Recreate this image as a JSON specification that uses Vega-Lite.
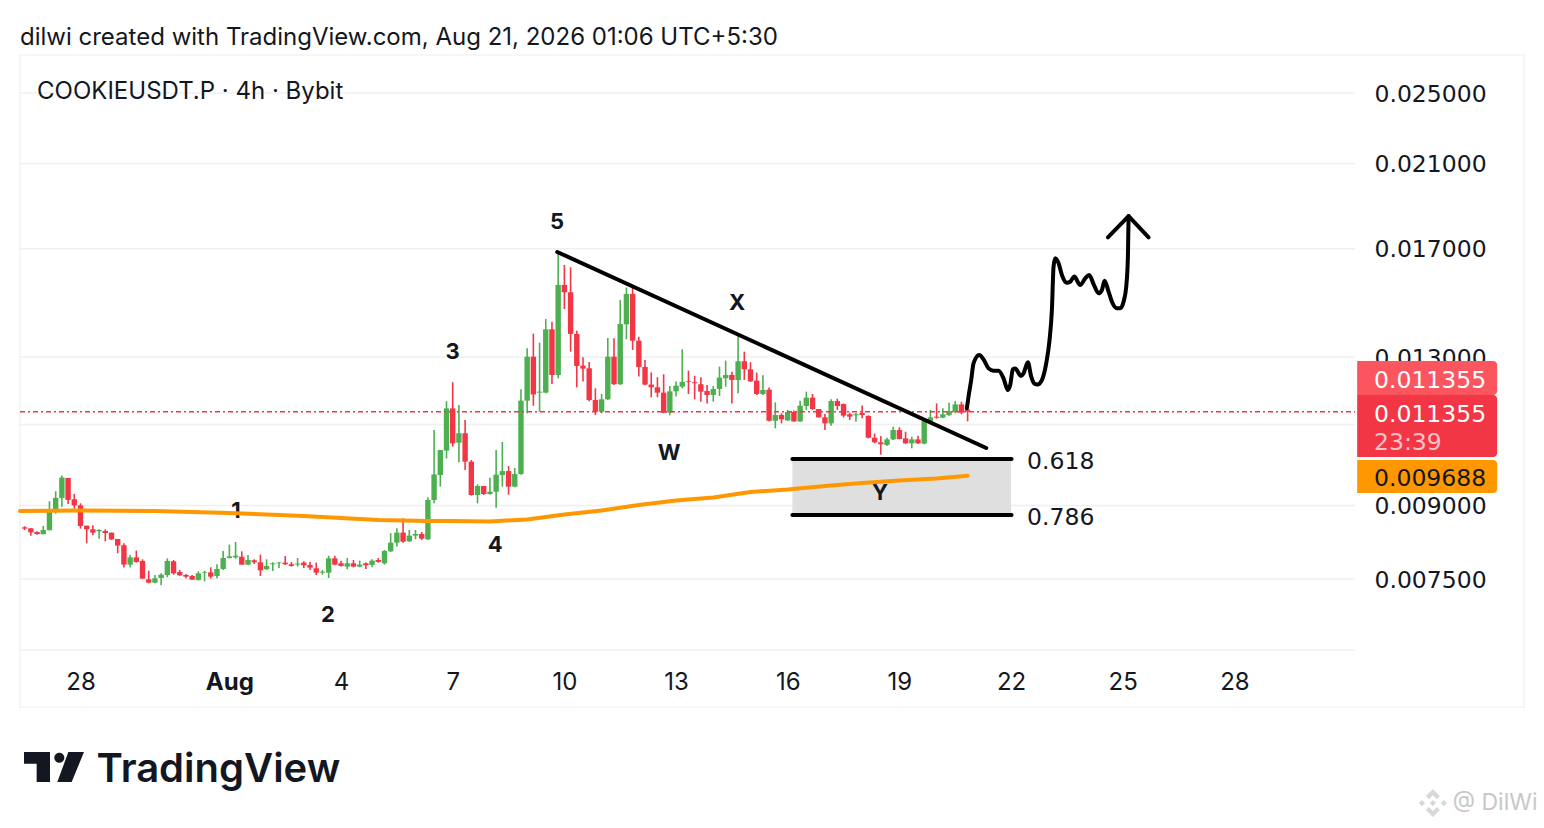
{
"$schema":"https://vega.github.io/schema/vega-lite/v6.json",
"width":1504,"height":652,
"autosize":"none",
"padding":{"left":20,"top":55,"right":20,"bottom":121},
"background":"#ffffff",
"title":{"text":"dilwi created with TradingView.com, Aug 21, 2026 01:06 UTC+5:30","anchor":"start","frame":"group","offset":5,"font":"Inter","fontSize":24,"fontWeight":"normal","color":"#131722"},
"config":{"view":{"stroke":"#f3f3f3","strokeWidth":1.5},"font":"Inter"},
"datasets":{
"candles":[
{"t":"2026-07-26T12:00Z","o":0.008526,"h":0.008547,"l":0.00847,"c":0.008498},
{"t":"2026-07-26T16:00Z","o":0.008505,"h":0.008505,"l":0.008352,"c":0.008421},
{"t":"2026-07-26T20:00Z","o":0.008428,"h":0.008442,"l":0.008372,"c":0.008386},
{"t":"2026-07-27T00:00Z","o":0.008381,"h":0.008554,"l":0.008381,"c":0.00847},
{"t":"2026-07-27T04:00Z","o":0.008463,"h":0.009095,"l":0.008463,"c":0.008878},
{"t":"2026-07-27T08:00Z","o":0.008856,"h":0.009322,"l":0.00882,"c":0.00917},
{"t":"2026-07-27T12:00Z","o":0.00917,"h":0.009691,"l":0.008973,"c":0.009643},
{"t":"2026-07-27T16:00Z","o":0.009635,"h":0.009635,"l":0.009034,"c":0.009125},
{"t":"2026-07-27T20:00Z","o":0.00914,"h":0.009261,"l":0.008929,"c":0.009003},
{"t":"2026-07-28T00:00Z","o":0.009003,"h":0.009049,"l":0.008498,"c":0.008554},
{"t":"2026-07-28T04:00Z","o":0.008561,"h":0.008561,"l":0.008195,"c":0.008484},
{"t":"2026-07-28T08:00Z","o":0.008484,"h":0.008568,"l":0.008358,"c":0.008414},
{"t":"2026-07-28T12:00Z","o":0.008442,"h":0.008484,"l":0.00829,"c":0.00847},
{"t":"2026-07-28T16:00Z","o":0.008449,"h":0.008484,"l":0.008235,"c":0.008407},
{"t":"2026-07-28T20:00Z","o":0.008414,"h":0.008414,"l":0.008262,"c":0.008276},
{"t":"2026-07-29T00:00Z","o":0.008283,"h":0.008283,"l":0.007994,"c":0.008148},
{"t":"2026-07-29T04:00Z","o":0.008155,"h":0.008195,"l":0.007716,"c":0.007773},
{"t":"2026-07-29T08:00Z","o":0.007773,"h":0.00796,"l":0.007716,"c":0.007914},
{"t":"2026-07-29T12:00Z","o":0.007914,"h":0.008047,"l":0.007812,"c":0.007825},
{"t":"2026-07-29T16:00Z","o":0.007844,"h":0.007876,"l":0.007508,"c":0.007508},
{"t":"2026-07-29T20:00Z","o":0.007496,"h":0.007658,"l":0.007422,"c":0.007434},
{"t":"2026-07-30T00:00Z","o":0.007434,"h":0.007576,"l":0.007422,"c":0.007514},
{"t":"2026-07-30T04:00Z","o":0.00752,"h":0.007607,"l":0.007384,"c":0.007582},
{"t":"2026-07-30T08:00Z","o":0.007576,"h":0.007895,"l":0.007533,"c":0.007844},
{"t":"2026-07-30T12:00Z","o":0.007838,"h":0.007863,"l":0.007582,"c":0.007607},
{"t":"2026-07-30T16:00Z","o":0.007633,"h":0.007671,"l":0.007558,"c":0.00757},
{"t":"2026-07-30T20:00Z","o":0.007576,"h":0.007595,"l":0.007514,"c":0.007545},
{"t":"2026-07-31T00:00Z","o":0.007558,"h":0.007576,"l":0.007483,"c":0.007489},
{"t":"2026-07-31T04:00Z","o":0.007483,"h":0.007645,"l":0.007471,"c":0.007607},
{"t":"2026-07-31T08:00Z","o":0.00762,"h":0.007658,"l":0.007459,"c":0.007633},
{"t":"2026-07-31T12:00Z","o":0.007626,"h":0.007722,"l":0.007508,"c":0.007545},
{"t":"2026-07-31T16:00Z","o":0.007558,"h":0.00778,"l":0.007514,"c":0.00769},
{"t":"2026-07-31T20:00Z","o":0.00769,"h":0.00804,"l":0.007671,"c":0.007901},
{"t":"2026-08-01T00:00Z","o":0.007901,"h":0.008168,"l":0.007895,"c":0.007934},
{"t":"2026-08-01T04:00Z","o":0.007914,"h":0.008222,"l":0.007889,"c":0.007947},
{"t":"2026-08-01T08:00Z","o":0.007927,"h":0.008033,"l":0.007767,"c":0.007773},
{"t":"2026-08-01T12:00Z","o":0.007773,"h":0.00796,"l":0.00776,"c":0.007863},
{"t":"2026-08-01T16:00Z","o":0.007857,"h":0.007876,"l":0.007786,"c":0.007818},
{"t":"2026-08-01T20:00Z","o":0.007818,"h":0.007967,"l":0.007558,"c":0.007664},
{"t":"2026-08-02T00:00Z","o":0.007684,"h":0.007876,"l":0.007671,"c":0.007748},
{"t":"2026-08-02T04:00Z","o":0.00778,"h":0.007818,"l":0.007652,"c":0.007799},
{"t":"2026-08-02T08:00Z","o":0.007799,"h":0.007825,"l":0.007709,"c":0.007812},
{"t":"2026-08-02T12:00Z","o":0.007812,"h":0.00794,"l":0.007767,"c":0.00778},
{"t":"2026-08-02T16:00Z","o":0.00778,"h":0.007825,"l":0.007735,"c":0.007748},
{"t":"2026-08-02T20:00Z","o":0.007773,"h":0.007901,"l":0.007735,"c":0.007793},
{"t":"2026-08-03T00:00Z","o":0.007812,"h":0.007838,"l":0.007709,"c":0.00776},
{"t":"2026-08-03T04:00Z","o":0.007767,"h":0.007831,"l":0.007671,"c":0.007716},
{"t":"2026-08-03T08:00Z","o":0.007703,"h":0.007812,"l":0.007576,"c":0.00762},
{"t":"2026-08-03T12:00Z","o":0.00762,"h":0.007671,"l":0.007582,"c":0.007639},
{"t":"2026-08-03T16:00Z","o":0.00762,"h":0.007947,"l":0.00752,"c":0.007895},
{"t":"2026-08-03T20:00Z","o":0.007895,"h":0.007947,"l":0.00776,"c":0.007773},
{"t":"2026-08-04T00:00Z","o":0.007799,"h":0.00785,"l":0.007735,"c":0.007748},
{"t":"2026-08-04T04:00Z","o":0.007735,"h":0.007901,"l":0.007684,"c":0.007799},
{"t":"2026-08-04T08:00Z","o":0.007799,"h":0.007863,"l":0.007722,"c":0.007735},
{"t":"2026-08-04T12:00Z","o":0.007735,"h":0.00785,"l":0.007722,"c":0.007773},
{"t":"2026-08-04T16:00Z","o":0.007799,"h":0.007812,"l":0.00769,"c":0.00776},
{"t":"2026-08-04T20:00Z","o":0.007767,"h":0.007876,"l":0.007722,"c":0.00785},
{"t":"2026-08-05T00:00Z","o":0.007863,"h":0.007901,"l":0.007812,"c":0.007825},
{"t":"2026-08-05T04:00Z","o":0.007799,"h":0.00806,"l":0.007773,"c":0.00804},
{"t":"2026-08-05T08:00Z","o":0.008033,"h":0.008402,"l":0.00802,"c":0.008208},
{"t":"2026-08-05T12:00Z","o":0.008208,"h":0.008505,"l":0.008128,"c":0.008414},
{"t":"2026-08-05T16:00Z","o":0.008414,"h":0.00872,"l":0.008208,"c":0.008228},
{"t":"2026-08-05T20:00Z","o":0.008235,"h":0.00847,"l":0.008222,"c":0.008352},
{"t":"2026-08-06T00:00Z","o":0.008352,"h":0.00847,"l":0.008276,"c":0.008386},
{"t":"2026-08-06T04:00Z","o":0.008386,"h":0.008428,"l":0.008262,"c":0.00829},
{"t":"2026-08-06T08:00Z","o":0.008276,"h":0.009185,"l":0.008262,"c":0.009125},
{"t":"2026-08-06T12:00Z","o":0.009123,"h":0.01085,"l":0.009047,"c":0.00972},
{"t":"2026-08-06T16:00Z","o":0.009704,"h":0.010326,"l":0.009429,"c":0.010326},
{"t":"2026-08-06T20:00Z","o":0.010309,"h":0.011652,"l":0.010113,"c":0.011447},
{"t":"2026-08-07T00:00Z","o":0.011447,"h":0.012212,"l":0.010411,"c":0.010497},
{"t":"2026-08-07T04:00Z","o":0.010514,"h":0.011542,"l":0.010015,"c":0.010762},
{"t":"2026-08-07T08:00Z","o":0.010762,"h":0.011122,"l":0.009826,"c":0.010031},
{"t":"2026-08-07T12:00Z","o":0.010031,"h":0.010072,"l":0.009221,"c":0.009236},
{"t":"2026-08-07T16:00Z","o":0.009236,"h":0.009484,"l":0.009047,"c":0.009445},
{"t":"2026-08-07T20:00Z","o":0.009445,"h":0.009445,"l":0.009236,"c":0.009259},
{"t":"2026-08-08T00:00Z","o":0.009259,"h":0.009642,"l":0.009244,"c":0.009312},
{"t":"2026-08-08T04:00Z","o":0.009312,"h":0.010326,"l":0.008948,"c":0.009713},
{"t":"2026-08-08T08:00Z","o":0.009704,"h":0.010531,"l":0.009429,"c":0.009801},
{"t":"2026-08-08T12:00Z","o":0.009801,"h":0.009923,"l":0.009244,"c":0.009429},
{"t":"2026-08-08T16:00Z","o":0.009429,"h":0.009875,"l":0.009413,"c":0.009728},
{"t":"2026-08-08T20:00Z","o":0.009728,"h":0.012,"l":0.009712,"c":0.011668},
{"t":"2026-08-09T00:00Z","o":0.011668,"h":0.013285,"l":0.011307,"c":0.01301},
{"t":"2026-08-09T04:00Z","o":0.01301,"h":0.013775,"l":0.011522,"c":0.011844},
{"t":"2026-08-09T08:00Z","o":0.011902,"h":0.013471,"l":0.011353,"c":0.011931},
{"t":"2026-08-09T12:00Z","o":0.011902,"h":0.014284,"l":0.011883,"c":0.013925},
{"t":"2026-08-09T16:00Z","o":0.013925,"h":0.01419,"l":0.012162,"c":0.012434},
{"t":"2026-08-09T20:00Z","o":0.012434,"h":0.016879,"l":0.012333,"c":0.015542},
{"t":"2026-08-10T00:00Z","o":0.015542,"h":0.016331,"l":0.014643,"c":0.015261},
{"t":"2026-08-10T04:00Z","o":0.015261,"h":0.016237,"l":0.013175,"c":0.013765},
{"t":"2026-08-10T08:00Z","o":0.013765,"h":0.013878,"l":0.012061,"c":0.012716},
{"t":"2026-08-10T12:00Z","o":0.012726,"h":0.012989,"l":0.012233,"c":0.012632},
{"t":"2026-08-10T16:00Z","o":0.012642,"h":0.012842,"l":0.011649,"c":0.011688},
{"t":"2026-08-10T20:00Z","o":0.011688,"h":0.01203,"l":0.01126,"c":0.011353},
{"t":"2026-08-11T00:00Z","o":0.011353,"h":0.011863,"l":0.011307,"c":0.011707},
{"t":"2026-08-11T04:00Z","o":0.011707,"h":0.013627,"l":0.011688,"c":0.01301},
{"t":"2026-08-11T08:00Z","o":0.01301,"h":0.013616,"l":0.012132,"c":0.012152},
{"t":"2026-08-11T12:00Z","o":0.012152,"h":0.014974,"l":0.012132,"c":0.014107},
{"t":"2026-08-11T16:00Z","o":0.014096,"h":0.015438,"l":0.013582,"c":0.015199},
{"t":"2026-08-11T20:00Z","o":0.015199,"h":0.015438,"l":0.013229,"c":0.013537},
{"t":"2026-08-12T00:00Z","o":0.013537,"h":0.013673,"l":0.012384,"c":0.012684},
{"t":"2026-08-12T04:00Z","o":0.012684,"h":0.012905,"l":0.012122,"c":0.012142},
{"t":"2026-08-12T08:00Z","o":0.012142,"h":0.012516,"l":0.011767,"c":0.012061},
{"t":"2026-08-12T12:00Z","o":0.012061,"h":0.012364,"l":0.011767,"c":0.011902},
{"t":"2026-08-12T16:00Z","o":0.011902,"h":0.012455,"l":0.011307,"c":0.011326},
{"t":"2026-08-12T20:00Z","o":0.011326,"h":0.012101,"l":0.011251,"c":0.011941},
{"t":"2026-08-13T00:00Z","o":0.011941,"h":0.012233,"l":0.011786,"c":0.012111},
{"t":"2026-08-13T04:00Z","o":0.012081,"h":0.013251,"l":0.01203,"c":0.012223},
{"t":"2026-08-13T08:00Z","o":0.012243,"h":0.012569,"l":0.011863,"c":0.012223},
{"t":"2026-08-13T12:00Z","o":0.012213,"h":0.012405,"l":0.011707,"c":0.012183},
{"t":"2026-08-13T16:00Z","o":0.012152,"h":0.012364,"l":0.01164,"c":0.011932},
{"t":"2026-08-13T20:00Z","o":0.011951,"h":0.012129,"l":0.011589,"c":0.011834},
{"t":"2026-08-14T00:00Z","o":0.011834,"h":0.012098,"l":0.011638,"c":0.01201},
{"t":"2026-08-14T04:00Z","o":0.01201,"h":0.012694,"l":0.011805,"c":0.012353},
{"t":"2026-08-14T08:00Z","o":0.012333,"h":0.012885,"l":0.012078,"c":0.012435},
{"t":"2026-08-14T12:00Z","o":0.012435,"h":0.012537,"l":0.011589,"c":0.012282},
{"t":"2026-08-14T16:00Z","o":0.012282,"h":0.01376,"l":0.011882,"c":0.012864},
{"t":"2026-08-14T20:00Z","o":0.012864,"h":0.013174,"l":0.012282,"c":0.012609},
{"t":"2026-08-15T00:00Z","o":0.012609,"h":0.012832,"l":0.012221,"c":0.012241},
{"t":"2026-08-15T04:00Z","o":0.012262,"h":0.012506,"l":0.011834,"c":0.011862},
{"t":"2026-08-15T08:00Z","o":0.011862,"h":0.012425,"l":0.011834,"c":0.01198},
{"t":"2026-08-15T12:00Z","o":0.01199,"h":0.012058,"l":0.011084,"c":0.011102},
{"t":"2026-08-15T16:00Z","o":0.011102,"h":0.011618,"l":0.010895,"c":0.011262},
{"t":"2026-08-15T20:00Z","o":0.011262,"h":0.011309,"l":0.01103,"c":0.01114},
{"t":"2026-08-16T00:00Z","o":0.011112,"h":0.011402,"l":0.011093,"c":0.011345},
{"t":"2026-08-16T04:00Z","o":0.011345,"h":0.011384,"l":0.011075,"c":0.011084},
{"t":"2026-08-16T08:00Z","o":0.011084,"h":0.011667,"l":0.011066,"c":0.011523},
{"t":"2026-08-16T12:00Z","o":0.011514,"h":0.011931,"l":0.011402,"c":0.011755},
{"t":"2026-08-16T16:00Z","o":0.011755,"h":0.011862,"l":0.011402,"c":0.01143},
{"t":"2026-08-16T20:00Z","o":0.01143,"h":0.01143,"l":0.011187,"c":0.011196},
{"t":"2026-08-17T00:00Z","o":0.011196,"h":0.01129,"l":0.01085,"c":0.01103},
{"t":"2026-08-17T04:00Z","o":0.01103,"h":0.011706,"l":0.010967,"c":0.011657},
{"t":"2026-08-17T08:00Z","o":0.011657,"h":0.011726,"l":0.011402,"c":0.011514},
{"t":"2026-08-17T12:00Z","o":0.01157,"h":0.011589,"l":0.011196,"c":0.011243},
{"t":"2026-08-17T16:00Z","o":0.011281,"h":0.011327,"l":0.011121,"c":0.011215},
{"t":"2026-08-17T20:00Z","o":0.011252,"h":0.011327,"l":0.011075,"c":0.011281},
{"t":"2026-08-18T00:00Z","o":0.011318,"h":0.011532,"l":0.011168,"c":0.011262},
{"t":"2026-08-18T04:00Z","o":0.011234,"h":0.011252,"l":0.010627,"c":0.010644},
{"t":"2026-08-18T08:00Z","o":0.010644,"h":0.010756,"l":0.010498,"c":0.010524},
{"t":"2026-08-18T12:00Z","o":0.010524,"h":0.010687,"l":0.010207,"c":0.010472},
{"t":"2026-08-18T16:00Z","o":0.010455,"h":0.010644,"l":0.010429,"c":0.010601},
{"t":"2026-08-18T20:00Z","o":0.010601,"h":0.01094,"l":0.010584,"c":0.01085},
{"t":"2026-08-19T00:00Z","o":0.01085,"h":0.010922,"l":0.010601,"c":0.01061},
{"t":"2026-08-19T04:00Z","o":0.010627,"h":0.010805,"l":0.010481,"c":0.010498},
{"t":"2026-08-19T08:00Z","o":0.010498,"h":0.01067,"l":0.010369,"c":0.010601},
{"t":"2026-08-19T12:00Z","o":0.010601,"h":0.010697,"l":0.010481,"c":0.010498},
{"t":"2026-08-19T16:00Z","o":0.01049,"h":0.011168,"l":0.010472,"c":0.011093},
{"t":"2026-08-19T20:00Z","o":0.011075,"h":0.011402,"l":0.011048,"c":0.011196},
{"t":"2026-08-20T00:00Z","o":0.011215,"h":0.011589,"l":0.011159,"c":0.011187},
{"t":"2026-08-20T04:00Z","o":0.011187,"h":0.011449,"l":0.011168,"c":0.011281},
{"t":"2026-08-20T08:00Z","o":0.011262,"h":0.011608,"l":0.011234,"c":0.011365},
{"t":"2026-08-20T12:00Z","o":0.011345,"h":0.011657,"l":0.011309,"c":0.01156},
{"t":"2026-08-20T16:00Z","o":0.01156,"h":0.011638,"l":0.011281,"c":0.011327},
{"t":"2026-08-20T20:00Z","o":0.011411,"h":0.01147,"l":0.011084,"c":0.011355}
],
"ma":[
{"t":"2026-07-26T09:00Z","p":0.008878},{"t":"2026-07-28T00:00Z","p":0.008889},{"t":"2026-07-30T00:00Z","p":0.008878},
{"t":"2026-08-01T00:00Z","p":0.008835},{"t":"2026-08-03T00:00Z","p":0.00877},{"t":"2026-08-04T00:00Z","p":0.008726},
{"t":"2026-08-05T00:00Z","p":0.008683},{"t":"2026-08-06T08:00Z","p":0.008662},{"t":"2026-08-07T00:00Z","p":0.008662},
{"t":"2026-08-08T00:00Z","p":0.008651},{"t":"2026-08-09T00:00Z","p":0.008694},{"t":"2026-08-10T00:00Z","p":0.008802},
{"t":"2026-08-11T00:00Z","p":0.008889},{"t":"2026-08-12T00:00Z","p":0.009012},{"t":"2026-08-13T00:00Z","p":0.009113},
{"t":"2026-08-14T00:00Z","p":0.009181},{"t":"2026-08-15T00:00Z","p":0.009306},{"t":"2026-08-16T00:00Z","p":0.009364},
{"t":"2026-08-17T00:00Z","p":0.009447},{"t":"2026-08-18T00:00Z","p":0.009516},{"t":"2026-08-19T00:00Z","p":0.009575},
{"t":"2026-08-20T00:00Z","p":0.009623},{"t":"2026-08-20T20:00Z","p":0.009688}
],
"gridY":[
{"t":"2026-07-26T09:00Z","t2":"2026-08-31T05:50Z","p":0.0075},
{"t":"2026-07-26T09:00Z","t2":"2026-08-31T05:50Z","p":0.009},
{"t":"2026-07-26T09:00Z","t2":"2026-08-31T05:50Z","p":0.011},
{"t":"2026-07-26T09:00Z","t2":"2026-08-31T05:50Z","p":0.013},
{"t":"2026-07-26T09:00Z","t2":"2026-08-31T05:50Z","p":0.017},
{"t":"2026-07-26T09:00Z","t2":"2026-08-31T05:50Z","p":0.021},
{"t":"2026-07-26T09:00Z","t2":"2026-08-31T05:50Z","p":0.025},
{"t":"2026-07-26T09:00Z","t2":"2026-08-31T05:50Z","p":0.00629}
],
"gridX":[
{"t":"2026-07-28T00:00Z"},{"t":"2026-08-01T00:00Z"},{"t":"2026-08-04T00:00Z"},{"t":"2026-08-07T00:00Z"},
{"t":"2026-08-10T00:00Z"},{"t":"2026-08-13T00:00Z"},{"t":"2026-08-16T00:00Z"},{"t":"2026-08-19T00:00Z"},
{"t":"2026-08-22T00:00Z"},{"t":"2026-08-25T00:00Z"},{"t":"2026-08-28T00:00Z"}
],
"zone":[{"t":"2026-08-16T03:00Z","t2":"2026-08-22T00:00Z","p":0.010098,"p2":0.008791}],
"paths":[
{"g":"trend","t":"2026-08-09T19:24Z","p":0.016864},{"g":"trend","t":"2026-08-21T08:00Z","p":0.010378},
{"g":"fib618","t":"2026-08-16T03:00Z","p":0.010098},{"g":"fib618","t":"2026-08-22T00:20Z","p":0.010098},
{"g":"fib786","t":"2026-08-16T03:00Z","p":0.008791},{"g":"fib786","t":"2026-08-22T00:20Z","p":0.008791},
{"g":"arrow","t":"2026-08-24T14:27Z","p":0.017487},{"g":"arrow","t":"2026-08-25T03:47Z","p":0.018434},{"g":"arrow","t":"2026-08-25T16:41Z","p":0.017487}
],
"sketch":[
{"t":"2026-08-20T19:30Z","p":0.011449},{"t":"2026-08-20T20:34Z","p":0.011783},{"t":"2026-08-20T22:18Z","p":0.01228},{"t":"2026-08-20T23:48Z","p":0.012797},
{"t":"2026-08-21T03:27Z","p":0.013065},{"t":"2026-08-21T06:15Z","p":0.012926},{"t":"2026-08-21T09:29Z","p":0.012639},{"t":"2026-08-21T12:42Z","p":0.012567},
{"t":"2026-08-21T15:56Z","p":0.012567},{"t":"2026-08-21T19:09Z","p":0.012331},{"t":"2026-08-21T21:57Z","p":0.011979},{"t":"2026-08-21T23:27Z","p":0.012127},
{"t":"2026-08-22T01:10Z","p":0.012608},{"t":"2026-08-22T02:41Z","p":0.012639},{"t":"2026-08-22T06:20Z","p":0.012403},{"t":"2026-08-22T08:03Z","p":0.012485},
{"t":"2026-08-22T10:51Z","p":0.012829},{"t":"2026-08-22T13:00Z","p":0.012383},{"t":"2026-08-22T14:56Z","p":0.012177},{"t":"2026-08-22T17:05Z","p":0.012147},
{"t":"2026-08-22T19:53Z","p":0.01228},{"t":"2026-08-22T22:40Z","p":0.012797},{"t":"2026-08-23T00:49Z","p":0.013561},{"t":"2026-08-23T02:20Z","p":0.014606},
{"t":"2026-08-23T03:24Z","p":0.016259},{"t":"2026-08-23T04:29Z","p":0.016602},{"t":"2026-08-23T06:38Z","p":0.016396},{"t":"2026-08-23T08:47Z","p":0.01593},
{"t":"2026-08-23T12:00Z","p":0.015627},{"t":"2026-08-23T14:09Z","p":0.015667},{"t":"2026-08-23T16:44Z","p":0.015865},{"t":"2026-08-23T20:36Z","p":0.015538},
{"t":"2026-08-23T23:50Z","p":0.015799},{"t":"2026-08-24T02:24Z","p":0.01593},{"t":"2026-08-24T05:12Z","p":0.015576},{"t":"2026-08-24T08:26Z","p":0.015222},
{"t":"2026-08-24T10:35Z","p":0.015348},{"t":"2026-08-24T12:18Z","p":0.015706},{"t":"2026-08-24T14:53Z","p":0.015285},{"t":"2026-08-24T17:02Z","p":0.014909},
{"t":"2026-08-24T20:15Z","p":0.014667},{"t":"2026-08-24T22:24Z","p":0.014667},{"t":"2026-08-25T00:33Z","p":0.014909},{"t":"2026-08-25T02:16Z","p":0.015475},
{"t":"2026-08-25T03:21Z","p":0.01667},{"t":"2026-08-25T03:47Z","p":0.018434}
],
"waves":[
{"t":"2026-08-09T19:13Z","p":0.018165,"label":"5"},{"t":"2026-08-07T00:00Z","p":0.013165,"label":"3"},
{"t":"2026-08-08T03:20Z","p":0.008162,"label":"4"},{"t":"2026-08-03T15:36Z","p":0.006862,"label":"2"},
{"t":"2026-08-01T04:16Z","p":0.00888,"label":"1"},{"t":"2026-08-12T19:30Z","p":0.01025,"label":"W"},
{"t":"2026-08-14T15:20Z","p":0.014865,"label":"X"},{"t":"2026-08-18T11:30Z","p":0.009284,"label":"Y"}
],
"notes":[
{"t":"2026-07-26T20:00Z","p":0.02506,"label":"COOKIEUSDT.P · 4h · Bybit"}
],
"fibs":[
{"t":"2026-08-22T10:20Z","p":0.010022,"label":"0.618"},
{"t":"2026-08-22T10:20Z","p":0.008726,"label":"0.786"}
],
"tags":[
{"kind":"high","t":"2026-08-31T07:10Z","t2":"2026-09-04T01:26Z","p":0.012872,"p2":0.011833},
{"kind":"last","t":"2026-08-31T07:10Z","t2":"2026-09-04T01:26Z","p":0.011833,"p2":0.010149},
{"kind":"ma","t":"2026-08-31T07:10Z","t2":"2026-09-04T01:26Z","p":0.010073,"p2":0.009283}
],
"tagText":[
{"kind":"price","t":"2026-08-31T18:02Z","p":0.01225,"label":"0.011355"},
{"kind":"price","t":"2026-08-31T18:02Z","p":0.01126,"label":"0.011355"},
{"kind":"timer","t":"2026-08-31T18:02Z","p":0.010506,"label":"23:39"},
{"kind":"ma","t":"2026-08-31T18:02Z","p":0.00961,"label":"0.009688"}
],
"logo":[{"t":"2026-07-27T06:55Z","p":0.004708}],
"brand":[{"t":"2026-07-28T10:19Z","p":0.004674,"label":"TradingView"}],
"stamp":[{"t":"2026-09-02T20:50Z","p":0.004306,"label":"@ DilWi"}],
"stampIcon":[{"t":"2026-09-02T08:00Z","p":0.004306}],
"last":[{"t":"2026-07-26T09:00Z","t2":"2026-08-31T05:50Z","p":0.011355}]
},
"encoding":{
"x":{"field":"t","type":"temporal","title":null,
"scale":{"type":"utc","padding":0,"domain":["2026-07-26T09:00:00Z","2026-09-04T18:44:00Z"]},
"axis":{"orient":"bottom","values":["2026-07-28T00:00:00Z","2026-08-01T00:00:00Z","2026-08-04T00:00:00Z","2026-08-07T00:00:00Z","2026-08-10T00:00:00Z","2026-08-13T00:00:00Z","2026-08-16T00:00:00Z","2026-08-19T00:00:00Z","2026-08-22T00:00:00Z","2026-08-25T00:00:00Z","2026-08-28T00:00:00Z"],
"labelExpr":"utcdate(datum.value)==1 ? utcFormat(datum.value,'%b') : utcFormat(datum.value,'%-d')",
"labelFontWeight":{"condition":{"test":"utcdate(datum.value)==1","value":"bold"},"value":"normal"},
"grid":false,"domain":false,"ticks":false,"tickSize":0,"labelPadding":-25,"labelBaseline":"middle","labelAlign":"center","labelFontSize":24,"labelFont":"Inter","labelColor":"#131722","labelFlush":false,"labelOverlap":false,"labelBound":false,"title":null}},
"y":{"field":"p","type":"quantitative","title":null,
"scale":{"type":"log","domain":[0.005463,0.02747]},
"axis":{"orient":"right","offset":-150,"values":[0.0075,0.009,0.013,0.017,0.021,0.025],"labelExpr":"format(datum.value,'.6f')","grid":false,"domain":false,"ticks":false,"tickSize":0,"labelPadding":0,"labelOffset":1,"labelAlign":"left","labelBaseline":"middle","labelFontSize":23.5,"labelFont":"DejaVu Sans","labelColor":"#131722","labelFlush":false,"labelOverlap":false,"labelBound":false,"title":null}}
},
"layer":[
{"data":{"name":"gridY"},"mark":{"type":"rule","color":"#f0f0f0","strokeWidth":1.5},"encoding":{"x2":{"field":"t2"}}},
{"data":{"name":"gridX"},"mark":{"type":"rule","color":"#f0f0f0","strokeWidth":1.5},"encoding":{"y":{"datum":0.00629,"type":"quantitative","scale":{"type":"log","domain":[0.005463,0.02747]},"title":null},"y2":{"datum":0.02747}}},
{"data":{"name":"candles"},"mark":{"type":"rule","strokeWidth":1.6},
"encoding":{"y":{"field":"h","type":"quantitative","title":null,"scale":{"type":"log","domain":[0.005463,0.02747]}},"y2":{"field":"l"},
"color":{"condition":{"test":"datum.c >= datum.o","value":"#4caf50"},"value":"#f23645"}}},
{"data":{"name":"candles"},"mark":{"type":"bar","size":5.4},
"encoding":{"y":{"field":"o","type":"quantitative","title":null,"scale":{"type":"log","domain":[0.005463,0.02747]}},"y2":{"field":"c"},
"color":{"condition":{"test":"datum.c >= datum.o","value":"#4caf50"},"value":"#f23645"}}},
{"data":{"name":"last"},"mark":{"type":"rule","color":"#f23645","strokeWidth":1.5,"strokeDash":[5,3,2,3]},"encoding":{"x2":{"field":"t2"}}},
{"data":{"name":"zone"},"mark":{"type":"rect","color":"#dcdcdc","opacity":0.92},"encoding":{"x2":{"field":"t2"},"y2":{"field":"p2"}}},
{"data":{"name":"waves"},"mark":{"type":"text","font":"Inter","fontSize":22,"fontWeight":"bold","color":"#131722","align":"center","baseline":"middle"},"encoding":{"text":{"field":"label"}}},
{"data":{"name":"ma"},"mark":{"type":"line","color":"#ff9800","strokeWidth":4,"strokeCap":"round"}},
{"data":{"name":"paths"},"mark":{"type":"line","color":"#000000","strokeWidth":4,"strokeCap":"round","strokeJoin":"round"},"encoding":{"detail":{"field":"g"}}},
{"data":{"name":"sketch"},"mark":{"type":"line","color":"#000000","strokeWidth":4,"strokeCap":"round","strokeJoin":"round","interpolate":"monotone"}},
{"data":{"name":"notes"},"mark":{"type":"text","font":"Inter","fontSize":24,"color":"#131722","align":"left","baseline":"middle"},"encoding":{"text":{"field":"label"}}},
{"data":{"name":"fibs"},"mark":{"type":"text","font":"DejaVu Sans","fontSize":23.5,"color":"#131722","align":"left","baseline":"middle"},"encoding":{"text":{"field":"label"}}},
{"data":{"name":"tags"},"mark":{"type":"rect","cornerRadiusTopRight":4,"cornerRadiusBottomRight":4},"encoding":{"x2":{"field":"t2"},"y2":{"field":"p2"},
"color":{"field":"kind","type":"nominal","legend":null,"scale":{"domain":["high","last","ma"],"range":["#fb5560","#f23645","#ff9800"]}}}},
{"data":{"name":"tagText"},"mark":{"type":"text","font":"DejaVu Sans","fontSize":23.5,"align":"left","baseline":"middle"},"encoding":{"text":{"field":"label"},
"color":{"field":"kind","type":"nominal","legend":null,"scale":{"domain":["price","timer","ma"],"range":["#ffffff","#fbc2c7","#131722"]}}}},
{"data":{"name":"logo"},"mark":{"type":"point","filled":true,"opacity":1,"color":"#131722","size":3600,"shape":"M-1,-.5L-.133,-.5L-.133,.5L-.578,.5L-.578,-.111L-1,-.111Z M.011,-.311A.167,.167 0 1 1 .345,-.311A.167,.167 0 1 1 .011,-.311Z M.478,-.5L1,-.5L.589,.5L.111,.5Z"}},
{"data":{"name":"brand"},"mark":{"type":"text","font":"Inter","fontSize":40,"fontWeight":600,"color":"#131722","align":"left","baseline":"middle"},"encoding":{"text":{"field":"label"}}},
{"data":{"name":"stampIcon"},"mark":{"type":"point","filled":true,"opacity":1,"color":"#d8d8d8","size":784,"shape":"M0,-1L.5,-.5L.28,-.28L0,-.56L-.28,-.28L-.5,-.5Z M0,1L.5,.5L.28,.28L0,.56L-.28,.28L-.5,.5Z M-1,0L-.78,-.22L-.56,0L-.78,.22Z M1,0L.78,-.22L.56,0L.78,.22Z M0,-.22L.22,0L0,.22L-.22,0Z"}},
{"data":{"name":"stamp"},"mark":{"type":"text","font":"Inter","fontSize":23,"color":"#c8c8c8","align":"left","baseline":"middle"},"encoding":{"text":{"field":"label"}}}
],
"resolve":{"scale":{"color":"independent"}}
}
